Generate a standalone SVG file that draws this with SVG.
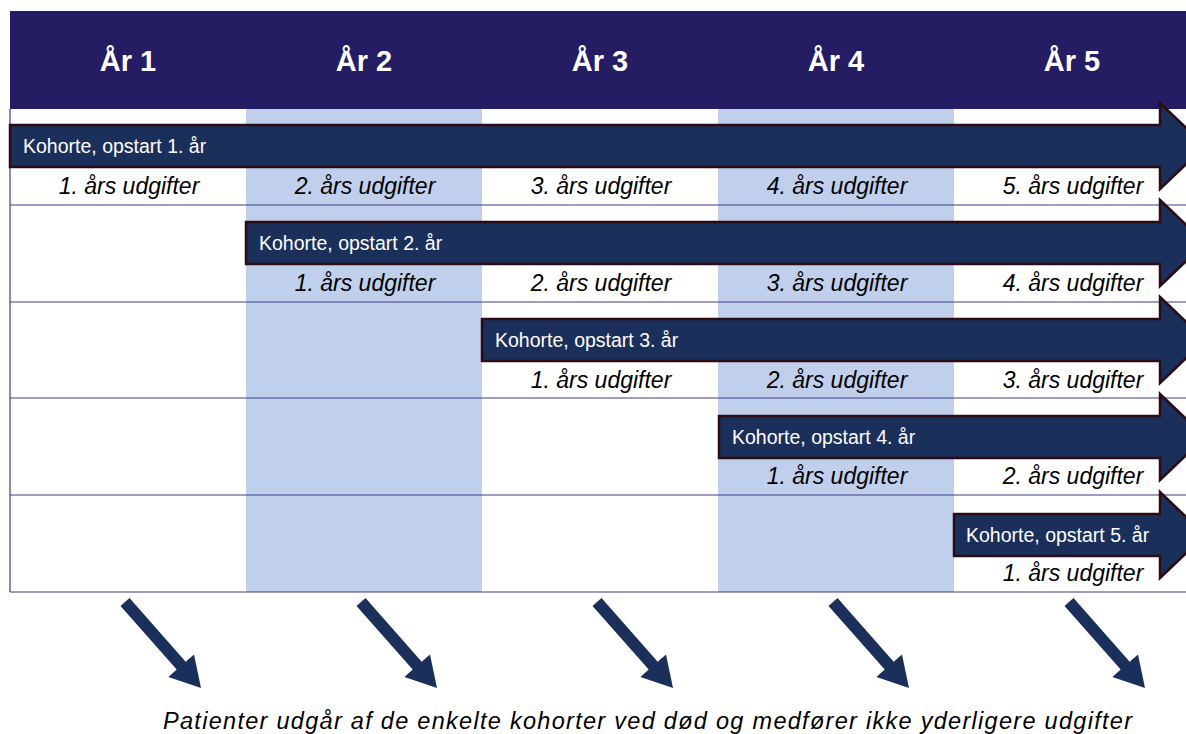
<svg xmlns="http://www.w3.org/2000/svg" width="1186" height="734" viewBox="0 0 1186 734">
<style>
.hdr{font-family:"Liberation Sans",Arial,sans-serif;font-weight:bold;font-size:29px;fill:#ffffff;text-anchor:middle}
.lbl{font-family:"Liberation Sans",Arial,sans-serif;font-style:italic;font-size:23px;fill:#000000;text-anchor:middle}
.koh{font-family:"Liberation Sans",Arial,sans-serif;font-size:19.5px;fill:#ffffff}
.bar{fill:#1b2f5b;stroke:#2b0b14;stroke-width:2.5;stroke-linejoin:miter}
.row{stroke:#413a88;stroke-width:1.2}
.diag{fill:#1b2f5b}
.note{font-family:"Liberation Sans",Arial,sans-serif;font-style:italic;font-size:23.5px;fill:#000000}
</style>
<rect width="1186" height="734" fill="#ffffff"/>
<g id="grid">
<rect x="246" y="109" width="236" height="483" fill="#c0d0ec"/>
<rect x="718" y="109" width="236" height="483" fill="#c0d0ec"/>
<line class="row" x1="10" y1="205" x2="1186" y2="205"/>
<line class="row" x1="10" y1="302" x2="1186" y2="302"/>
<line class="row" x1="10" y1="398" x2="1186" y2="398"/>
<line class="row" x1="10" y1="495" x2="1186" y2="495"/>
<line class="row" x1="10" y1="592" x2="1186" y2="592"/>
<line class="row" x1="10" y1="109" x2="10" y2="592"/>
</g>
<g id="header">
<rect x="10" y="11" width="1176" height="98" fill="#251d63"/>
<text class="hdr" x="128" y="71">År 1</text>
<text class="hdr" x="364" y="71">År 2</text>
<text class="hdr" x="600" y="71">År 3</text>
<text class="hdr" x="836" y="71">År 4</text>
<text class="hdr" x="1072" y="71">År 5</text>
</g>
<g id="labels">
<text class="lbl" x="129" y="194">1. års udgifter</text>
<text class="lbl" x="365" y="194">2. års udgifter</text>
<text class="lbl" x="601" y="194">3. års udgifter</text>
<text class="lbl" x="837" y="194">4. års udgifter</text>
<text class="lbl" x="1073" y="194">5. års udgifter</text>
<text class="lbl" x="365" y="291">1. års udgifter</text>
<text class="lbl" x="601" y="291">2. års udgifter</text>
<text class="lbl" x="837" y="291">3. års udgifter</text>
<text class="lbl" x="1073" y="291">4. års udgifter</text>
<text class="lbl" x="601" y="388">1. års udgifter</text>
<text class="lbl" x="837" y="388">2. års udgifter</text>
<text class="lbl" x="1073" y="388">3. års udgifter</text>
<text class="lbl" x="837" y="484">1. års udgifter</text>
<text class="lbl" x="1073" y="484">2. års udgifter</text>
<text class="lbl" x="1073" y="581">1. års udgifter</text>
</g>
<g id="cohort1">
<polygon class="bar" points="10,125 1160,125 1160,103 1205,146 1160,189 1160,167 10,167"/>
<text class="koh" x="23" y="153">Kohorte, opstart 1. år</text>
</g>
<g id="cohort2">
<polygon class="bar" points="246,222 1160,222 1160,200 1205,243 1160,286 1160,264 246,264"/>
<text class="koh" x="259" y="250">Kohorte, opstart 2. år</text>
</g>
<g id="cohort3">
<polygon class="bar" points="482,319 1160,319 1160,297 1205,340 1160,383 1160,361 482,361"/>
<text class="koh" x="495" y="347">Kohorte, opstart 3. år</text>
</g>
<g id="cohort4">
<polygon class="bar" points="719,416 1160,416 1160,394 1205,437 1160,480 1160,458 719,458"/>
<text class="koh" x="732" y="444">Kohorte, opstart 4. år</text>
</g>
<g id="cohort5">
<polygon class="bar" points="954,514 1160,514 1160,492 1205,535 1160,578 1160,556 954,556"/>
<text class="koh" x="966" y="542">Kohorte, opstart 5. år</text>
</g>
<g id="connectors">
<defs>
<polygon id="dArrow" points="4.5,-3.97 60.7,59.7 69,52.4 76,86 43.4,75 51.7,67.6 -4.5,3.97"/>
</defs>
<use href="#dArrow" x="125" y="602" class="diag"/>
<use href="#dArrow" x="361" y="602" class="diag"/>
<use href="#dArrow" x="597" y="602" class="diag"/>
<use href="#dArrow" x="833" y="602" class="diag"/>
<use href="#dArrow" x="1069" y="602" class="diag"/>
</g>
<g id="note">
<text class="note" x="163" y="729" textLength="969" lengthAdjust="spacing">Patienter udgår af de enkelte kohorter ved død og medfører ikke yderligere udgifter</text>
</g>
</svg>
